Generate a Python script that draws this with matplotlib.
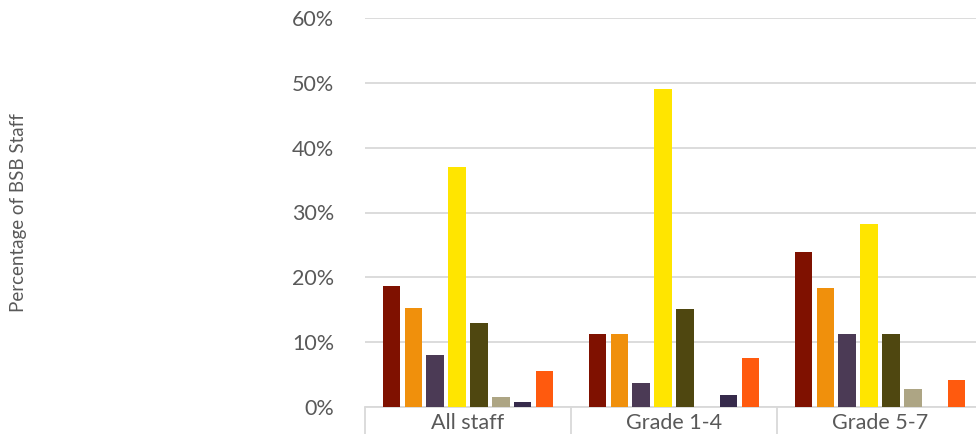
import matplotlib
matplotlib.use("Agg")
import matplotlib.pyplot as plt
import numpy as np
from matplotlib.ticker import FixedLocator, PercentFormatter

categories = ["All staff", "Grade 1-4", "Grade 5-7"]

series_1 = [18.6, 11.3, 23.9]
series_2 = [15.3, 11.3, 18.3]
series_3 = [8.0, 3.7, 11.3]
series_4 = [37.0, 49.1, 28.2]
series_5 = [12.9, 15.1, 11.3]
series_6 = [1.6, 0.0, 2.8]
series_7 = [0.8, 1.85, 0.0]
series_8 = [5.6, 7.5, 4.2]

all_series = [series_1, series_2, series_3, series_4,
              series_5, series_6, series_7, series_8]
colors = ["#7F1100", "#F0900C", "#4B3A55", "#FFE500",
          "#4F4710", "#ADA584", "#362A4B", "#FF5A0E"]

plt.rcParams["font.family"] = ["Lato", "DejaVu Sans"]

fig = plt.figure(figsize=(9.76, 4.34), dpi=100)
# plot area continues past the right edge of the canvas
ax = fig.add_axes([365 / 976, 27 / 434, 618 / 976, 389 / 434])

x = np.arange(len(categories))
slot = 0.106
width = 0.085
n = len(all_series)
for i, (vals, c) in enumerate(zip(all_series, colors)):
    offs = (i - (n - 1) / 2) * slot
    ax.bar(x + offs, vals, width=width, color=c, zorder=3)

ax.set_ylim(0, 60)
ax.set_xlim(-0.5, len(categories) - 0.5)
ax.set_yticks(np.arange(0, 61, 10))
ax.yaxis.set_major_formatter(PercentFormatter(decimals=0))
ax.grid(axis="y", color="#D9D9D9", linewidth=1.3, zorder=0)

for s in ["top", "right", "left"]:
    ax.spines[s].set_visible(False)
ax.spines["bottom"].set_color("#D9D9D9")
ax.spines["bottom"].set_linewidth(1.3)

ax.tick_params(axis="y", length=0, pad=22, labelsize=15.5, labelcolor="#595959")
ax.set_xticks(x)
ax.set_xticklabels(categories)
ax.tick_params(axis="x", which="major", length=0, pad=4, labelsize=15.5,
               labelcolor="#595959")
ax.xaxis.set_minor_locator(FixedLocator(np.arange(-0.5, len(categories), 1.0)))
ax.tick_params(axis="x", which="minor", length=22, width=1.3, color="#D9D9D9")

fig.text(19 / 976, 1 - 213 / 434, "Percentage of BSB Staff", rotation=90,
         ha="center", va="center", fontsize=13.5, color="#595959")

fig.savefig("out.png", dpi=100)
